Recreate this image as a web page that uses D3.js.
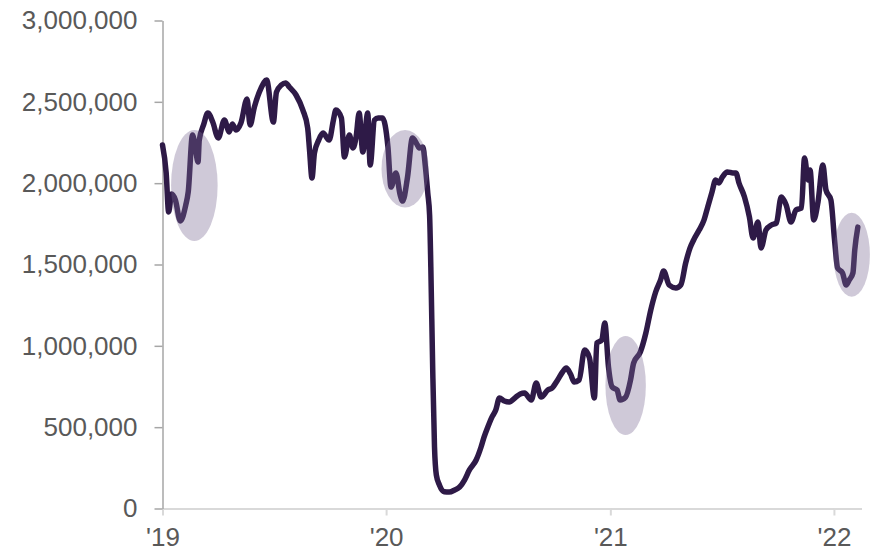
<!DOCTYPE html>
<html>
<head>
<meta charset="utf-8">
<script src="https://cdn.jsdelivr.net/npm/d3@7"></script>
<style>
  html, body { margin: 0; padding: 0; background: #ffffff; }
  svg { display: block; }
  .axis text { font-family: "Liberation Sans", Arial, sans-serif; font-size: 26px; fill: #595959; }
</style>
</head>
<body>
<svg id="chart" width="875" height="552"></svg>
<script>
// Travellers screened per day (7-day average)
const dates = [
  "2019-01-01","2019-01-07","2019-01-11","2019-01-16","2019-01-22","2019-01-30","2019-02-08","2019-02-12",
  "2019-02-19","2019-02-24","2019-02-28","2019-03-02","2019-03-09","2019-03-16","2019-03-24","2019-04-02",
  "2019-04-12","2019-04-20","2019-04-25","2019-05-01","2019-05-09","2019-05-19","2019-05-24","2019-05-31",
  "2019-06-11","2019-06-20","2019-07-01","2019-07-06","2019-07-14","2019-07-21","2019-07-27","2019-08-07",
  "2019-08-18","2019-08-26","2019-08-29","2019-09-02","2019-09-06","2019-09-13","2019-09-20","2019-09-30",
  "2019-10-07","2019-10-11","2019-10-20","2019-10-25","2019-11-02","2019-11-08","2019-11-13","2019-11-18",
  "2019-11-24","2019-12-02","2019-12-06","2019-12-13","2019-12-19","2019-12-26",
  "2020-01-04","2020-01-09","2020-01-17","2020-01-24","2020-01-28","2020-02-05","2020-02-13","2020-02-21",
  "2020-02-24","2020-03-01","2020-03-05","2020-03-09","2020-03-12","2020-03-14","2020-03-17","2020-03-20",
  "2020-03-23","2020-03-28","2020-04-05","2020-04-13","2020-04-22","2020-04-30","2020-05-08","2020-05-16",
  "2020-05-27","2020-06-04","2020-06-09","2020-06-15","2020-06-21","2020-06-28","2020-07-04","2020-07-12",
  "2020-07-20","2020-07-31","2020-08-07","2020-08-14","2020-08-25","2020-09-02","2020-09-10","2020-09-21",
  "2020-09-28","2020-10-07","2020-10-15","2020-10-21","2020-10-28","2020-11-03","2020-11-11","2020-11-20",
  "2020-11-28","2020-12-06","2020-12-10","2020-12-18","2020-12-23","2020-12-29",
  "2021-01-04","2021-01-12","2021-01-17","2021-01-26","2021-02-03","2021-02-08","2021-02-19","2021-02-28",
  "2021-03-08","2021-03-16","2021-03-24","2021-03-29","2021-04-07","2021-04-18","2021-04-26","2021-05-04",
  "2021-05-11","2021-05-17","2021-05-26","2021-06-03","2021-06-09","2021-06-16","2021-06-22","2021-06-27",
  "2021-07-03","2021-07-11","2021-07-20","2021-07-25","2021-07-30","2021-08-08","2021-08-16","2021-08-22",
  "2021-08-30","2021-09-04","2021-09-12","2021-09-21","2021-09-29","2021-10-07","2021-10-15","2021-10-23",
  "2021-10-31","2021-11-09","2021-11-14","2021-11-20","2021-11-23","2021-11-29","2021-12-06","2021-12-14",
  "2021-12-19","2021-12-27",
  "2022-01-02","2022-01-07","2022-01-15","2022-01-21","2022-01-26","2022-02-01","2022-02-04","2022-02-09"
];

const travellers = [
  2235000,2063000,1823000,1933000,1897000,1768000,1866000,1946000,
  2296000,2204000,2130000,2265000,2358000,2431000,2376000,2278000,
  2388000,2315000,2364000,2327000,2370000,2517000,2358000,2468000,
  2585000,2634000,2376000,2560000,2603000,2616000,2591000,2542000,
  2450000,2339000,2204000,2032000,2185000,2265000,2308000,2265000,
  2388000,2450000,2401000,2161000,2296000,2216000,2284000,2431000,
  2192000,2431000,2112000,2388000,2401000,2401000,
  2222000,1976000,2063000,1927000,1890000,2038000,2278000,2235000,
  2216000,2222000,2106000,1940000,1804000,1485000,870000,378000,
  206000,145000,103000,101000,114000,132000,175000,237000,
  298000,378000,440000,501000,556000,605000,679000,661000,
  655000,685000,704000,710000,667000,771000,685000,728000,
  741000,790000,839000,864000,827000,778000,790000,974000,
  925000,679000,1017000,1036000,1140000,870000,
  747000,728000,667000,685000,790000,894000,962000,1079000,
  1220000,1331000,1405000,1460000,1374000,1356000,1374000,1509000,
  1601000,1651000,1712000,1774000,1854000,1946000,2020000,2001000,
  2038000,2069000,2063000,2063000,2001000,1915000,1792000,1663000,
  1761000,1601000,1712000,1743000,1755000,1915000,1866000,1761000,
  1835000,1847000,2155000,2020000,2081000,1774000,1884000,2112000,
  1958000,1897000,
  1651000,1478000,1448000,1374000,1405000,1448000,1589000,1730000
];

// Shaded dips: centre date / value and half-width (days) / half-height (travellers)
const highlightDates = ["2019-02-22", "2020-02-01", "2021-01-26", "2022-01-30"];
const highlightValues = [1986000, 2089000, 756000, 1560000];
const highlightHalfDays = [38, 38.5, 33, 29.7];
const highlightHalfValues = [341000, 238000, 304000, 258000];

const yTicks = [0, 500000, 1000000, 1500000, 2000000, 2500000, 3000000];
const xTickDates = ["2019-01-01", "2020-01-01", "2021-01-01", "2022-01-01"];

const parse = d3.utcParse("%Y-%m-%d");
const series = dates.map((d, i) => ({ date: parse(d), value: travellers[i] }));

const svg = d3.select("#chart");

const x = d3.scaleUtc()
  .domain([parse("2019-01-01"), parse("2022-02-15")])
  .range([162.5, 861.5]);

const y = d3.scaleLinear()
  .domain([0, 3000000])
  .range([508.5, 20.5]);

// x axis
const xAxis = svg.append("g")
  .attr("class", "axis x-axis")
  .attr("transform", `translate(0,${y(0)})`)
  .call(d3.axisBottom(x)
    .tickValues(xTickDates.map(parse))
    .tickFormat(d3.utcFormat("'%y"))
    .tickSizeInner(7)
    .tickSizeOuter(0)
    .tickPadding(12));
xAxis.select(".domain").attr("stroke", "#d9d9d9").attr("stroke-width", 2);
xAxis.selectAll(".tick line").attr("stroke", "#d9d9d9").attr("stroke-width", 2);

// y axis
const yAxis = svg.append("g")
  .attr("class", "axis y-axis")
  .attr("transform", `translate(${x.range()[0]},0)`)
  .call(d3.axisLeft(y)
    .tickValues(yTicks)
    .tickFormat(d3.format(","))
    .tickSizeInner(8)
    .tickSizeOuter(0)
    .tickPadding(17));
yAxis.select(".domain").attr("stroke", "#a6a6a6").attr("stroke-width", 1.5);
yAxis.selectAll(".tick line").attr("stroke", "#a6a6a6").attr("stroke-width", 1.5);

// traveller line
const line = d3.line()
  .x(d => x(d.date))
  .y(d => y(d.value))
  .curve(d3.curveMonotoneX);

svg.append("path")
  .datum(series)
  .attr("fill", "none")
  .attr("stroke", "#2e1a47")
  .attr("stroke-width", 5.5)
  .attr("stroke-linejoin", "round")
  .attr("stroke-linecap", "round")
  .attr("d", line);

// translucent ellipses over the holiday dips
const dayMs = 24 * 3600 * 1000;
svg.append("g")
  .selectAll("ellipse")
  .data(highlightDates.map((d, i) => ({
    date: parse(d), value: highlightValues[i],
    halfDays: highlightHalfDays[i], halfValue: highlightHalfValues[i]
  })))
  .join("ellipse")
  .attr("cx", d => x(d.date))
  .attr("cy", d => y(d.value))
  .attr("rx", d => x(new Date(+d.date + d.halfDays * dayMs)) - x(d.date))
  .attr("ry", d => y(0) - y(d.halfValue))
  .attr("fill", "#7b6894")
  .attr("fill-opacity", 0.36);
</script>
</body>
</html>
